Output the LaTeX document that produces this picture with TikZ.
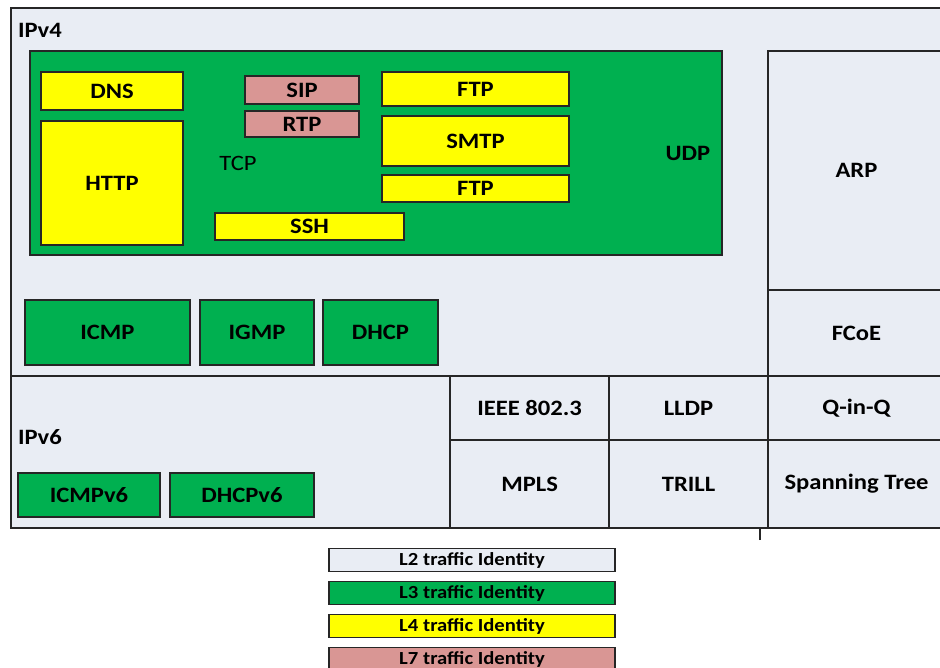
\documentclass[tikz,border=0pt]{standalone}
\usepackage{fontspec}
\setmainfont{Carlito}[FakeStretch=1.12]
\usetikzlibrary{positioning}
\definecolor{l2gray}{HTML}{E9EDF4}
\definecolor{l3green}{HTML}{00B050}
\definecolor{l4yellow}{HTML}{FFFF00}
\definecolor{l7rose}{HTML}{D99694}
\definecolor{edge}{HTML}{262626}
\begin{document}
\begin{tikzpicture}[x=0.02cm, y=-0.02cm,
        every node/.style={draw=edge, line width=1pt, inner sep=0pt, outer sep=0pt, font=\bfseries\fontsize{12.5}{15}\selectfont},
        layer2/.style={fill=l2gray},
        layer3/.style={fill=l3green},
        layer4/.style={fill=l4yellow},
        layer7/.style={fill=l7rose},
        bare/.style={draw=none, fill=none},
        legend/.style={minimum width=5.72cm, minimum height=0.46cm, font=\bfseries\fontsize{10.5}{12}\selectfont}
    ]
    \useasboundingbox (0,0) rectangle (940,667);
    \clip (0,0) rectangle (940,667);

    % IPv4 frame
    \draw[fill=l2gray, draw=edge, line width=1pt] (11,8) rectangle (945,528);
    \node[bare, anchor=west] (ipv4) at (18,30) {IPv4};

    % TCP / UDP block
    \node[layer3, minimum width=13.84cm, minimum height=4.08cm] (transport) at (376,153) {};
    \node[bare, font=\fontsize{12.5}{15}\selectfont] (tcp) at (238,163) {TCP};
    \node[bare] (udp) at (688,153) {UDP};

    \node[layer4, minimum width=2.84cm, minimum height=0.76cm] (dns) at (112,91) {DNS};
    \node[layer4, minimum width=2.84cm, minimum height=2.48cm] (http) at (112,183) {HTTP};
    \node[layer7, minimum width=2.28cm, minimum height=0.56cm] (sip) at (302,90) {SIP};
    \node[layer7, minimum width=2.28cm, minimum height=0.52cm, below=0.14cm of sip] (rtp) {RTP};
    \node[layer4, minimum width=3.74cm, minimum height=0.68cm] (ftpa) at (475.5,89) {FTP};
    \node[layer4, minimum width=3.74cm, minimum height=1cm, below=0.2cm of ftpa] (smtp) {SMTP};
    \node[layer4, minimum width=3.74cm, minimum height=0.54cm, below=0.18cm of smtp] (ftpb) {FTP};
    \node[layer4, minimum width=3.78cm, minimum height=0.54cm] (ssh) at (309.5,226.5) {SSH};

    % L3 in IPv4
    \node[layer3, minimum width=3.3cm, minimum height=1.3cm] (icmp) at (107.5,332.5) {ICMP};
    \node[layer3, minimum width=2.28cm, minimum height=1.3cm, right=0.2cm of icmp] (igmp) {IGMP};
    \node[layer3, minimum width=2.3cm, minimum height=1.3cm, right=0.18cm of igmp] (dhcp) {DHCP};

    % L2 cells
    \node[layer2, minimum width=3.54cm, minimum height=4.78cm] (arp) at (856.5,170.5) {ARP};
    \node[layer2, minimum width=3.54cm, minimum height=1.72cm, below=0pt of arp] (fcoe) {FCoE};
    \node[layer2, minimum width=3.54cm, minimum height=1.28cm, below=0pt of fcoe] (qinq) {Q-in-Q};
    \node[layer2, minimum width=3.54cm, minimum height=1.76cm, below=0pt of qinq] (stp) {Spanning Tree};
    \node[layer2, minimum width=3.18cm, minimum height=1.28cm, left=0pt of qinq] (lldp) {LLDP};
    \node[layer2, minimum width=3.18cm, minimum height=1.28cm, left=0pt of lldp] (ieee) {IEEE 802.3};
    \node[layer2, minimum width=3.18cm, minimum height=1.76cm, below=0pt of lldp] (trill) {TRILL};
    \node[layer2, minimum width=3.18cm, minimum height=1.76cm, below=0pt of ieee] (mpls) {MPLS};

    % IPv6
    \node[layer2, minimum width=8.78cm, minimum height=3.04cm] (ipv6box) at (230.5,452) {};
    \node[bare, anchor=west] (ipv6) at (18,437) {IPv6};
    \node[layer3, minimum width=2.84cm, minimum height=0.88cm] (icmpv6) at (89,495) {ICMPv6};
    \node[layer3, minimum width=2.88cm, minimum height=0.88cm, right=0.2cm of icmpv6] (dhcpv6) {DHCPv6};

    \coordinate (tick) at (760,540);
    \draw[draw=edge, line width=1pt] (tick) -- (tick |- trill.south);

    % legend
    \node[layer2, legend] (leg2) at (472,560) {L2 traffic Identity};
    \node[layer3, legend, below=0.2cm of leg2] (leg3) {L3 traffic Identity};
    \node[layer4, legend, below=0.2cm of leg3] (leg4) {L4 traffic Identity};
    \node[layer7, legend, below=0.2cm of leg4] (leg7) {L7 traffic Identity};
\end{tikzpicture}
\end{document}
